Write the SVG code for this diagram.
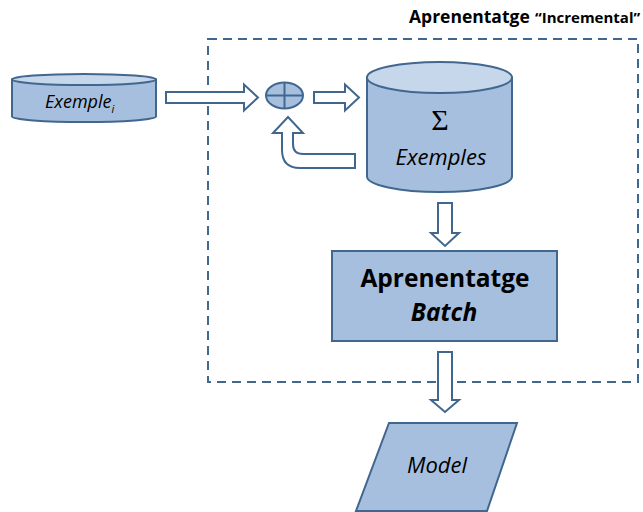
<svg xmlns="http://www.w3.org/2000/svg" width="643" height="512" viewBox="0 0 643 512">
  <style>
    .shape { fill: #a7bfde; stroke: #41678f; stroke-width: 2; }
    .lid { fill: #c6d6eb; stroke: #41678f; stroke-width: 2; }
    .arrow { fill: #ffffff; stroke: #41678f; stroke-width: 2; stroke-linejoin: miter; }
    .frame { fill: none; stroke: #41678f; stroke-width: 2; stroke-dasharray: 9 6; }
    .txt { font-family: "Open Sans", "Liberation Sans", sans-serif; fill: #000; }
    .it { font-style: italic; }
    .b { font-weight: bold; }
  </style>

  <!-- incremental learning frame -->
  <g id="frame">
    <rect class="frame" x="208" y="39" width="430" height="343"/>
    <text class="txt b" x="409" y="23" font-size="17.5">Aprenentatge</text>
    <text class="txt b" x="535" y="23" font-size="15">“Incremental”</text>
  </g>

  <!-- connectors (block arrows) -->
  <g id="connectors">
    <path class="arrow" d="M166,92 L244,92 L244,84.5 L258,97.5 L244,110.5 L244,103 L166,103 Z"/>
    <path class="arrow" d="M314,92 L345,92 L345,84.5 L359,97.5 L345,110.5 L345,103 L314,103 Z"/>
    <path class="arrow" d="M355,154 L303,154 Q293,154 293,144 L293,133 L303,133 L288,117 L273,133 L282,133 L282,150 Q282,168 300,168 L355,168 Z"/>
    <path class="arrow" d="M438,203 L452,203 L452,233 L459,233 L445,246 L431,233 L438,233 Z"/>
    <path class="arrow" d="M438,352 L452,352 L452,400 L459,400 L445,412 L431,400 L438,400 Z"/>
  </g>

  <!-- single incoming example -->
  <g id="exemple-i">
    <path class="shape" d="M12,79.5 L12,116.5 A72,5.5 0 0 0 156,116.5 L156,79.5 Z"/>
    <ellipse class="lid" cx="84" cy="79.5" rx="72" ry="5.5"/>
    <text class="txt it" x="45" y="108" font-size="18">Exemple<tspan font-size="11" dy="5">i</tspan></text>
  </g>

  <!-- accumulator -->
  <g id="sum">
    <ellipse class="shape" cx="284.5" cy="95.5" rx="18.5" ry="13"/>
    <line x1="284.5" y1="82.5" x2="284.5" y2="108.5" stroke="#41678f" stroke-width="2"/>
    <line x1="266" y1="95.5" x2="303" y2="95.5" stroke="#41678f" stroke-width="2"/>
  </g>

  <!-- stored examples -->
  <g id="exemples">
    <path class="shape" d="M367,77.5 L367,176.5 A72.5,15.5 0 0 0 512,176.5 L512,77.5 Z"/>
    <ellipse class="lid" cx="439.5" cy="77.5" rx="72.5" ry="15.5"/>
    <text x="440" y="130" font-size="30" text-anchor="middle" font-family="'Liberation Serif', 'DejaVu Serif', serif">Σ</text>
    <text class="txt it" x="441" y="165" font-size="22" text-anchor="middle">Exemples</text>
  </g>

  <!-- batch learner -->
  <g id="batch">
    <rect class="shape" x="332" y="251" width="225" height="90"/>
    <text class="txt b" x="445" y="287" font-size="24.5" text-anchor="middle">Aprenentatge</text>
    <text class="txt b it" x="444" y="321" font-size="24.5" text-anchor="middle">Batch</text>
  </g>

  <!-- resulting model -->
  <g id="model">
    <polygon class="shape" points="389,423 517,423 487,511 356,511"/>
    <text class="txt it" x="437" y="473" font-size="22" text-anchor="middle">Model</text>
  </g>
</svg>
